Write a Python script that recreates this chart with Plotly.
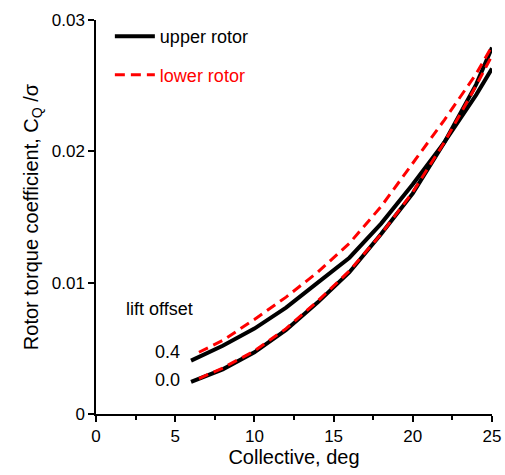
import plotly.graph_objects as go

# Data (collective angle, deg) and torque coefficient C_Q/sigma
collective_upper = [6, 8, 10, 12, 14, 16, 18, 20, 22, 24, 25]
upper_offset04 = [0.00406, 0.0052, 0.0065, 0.0081, 0.0100, 0.0119, 0.0145, 0.0175, 0.0207, 0.0243, 0.0263]
upper_offset00 = [0.00244, 0.0034, 0.0047, 0.0064, 0.0085, 0.0108, 0.0137, 0.0168, 0.0207, 0.0251, 0.0279]

collective_lower = [6.5, 8, 10, 12, 14, 16, 18, 20, 22, 24, 25]
lower_offset04 = [0.0047, 0.0056, 0.0072, 0.0089, 0.0108, 0.0130, 0.0158, 0.0191, 0.0224, 0.0259, 0.0280]
lower_offset00 = [0.0027, 0.0035, 0.0048, 0.0065, 0.0086, 0.0109, 0.0137, 0.0169, 0.0207, 0.0250, 0.0273]

x_ticks = [0, 5, 10, 15, 20, 25]
y_ticks = [0, 0.01, 0.02, 0.03]
y_tick_labels = ["0", "0.01", "0.02", "0.03"]

FONT = "Liberation Sans, Arial, sans-serif"

fig = go.Figure()

black = dict(color="black", width=4)
red = dict(color="#ff0000", width=3, dash="10px,6px")

fig.add_trace(go.Scatter(x=collective_upper, y=upper_offset04, mode="lines", line=black,
                         name="upper rotor", legendgroup="u", showlegend=True, cliponaxis=False))
fig.add_trace(go.Scatter(x=collective_upper, y=upper_offset00, mode="lines", line=black,
                         name="upper rotor", legendgroup="u", showlegend=False, cliponaxis=False))
fig.add_trace(go.Scatter(x=collective_lower, y=lower_offset04, mode="lines", line=red,
                         name='<span style="color:#ff0000">lower rotor</span>', legendgroup="l",
                         showlegend=True, cliponaxis=False))
fig.add_trace(go.Scatter(x=collective_lower, y=lower_offset00, mode="lines", line=red,
                         name="lower rotor", legendgroup="l", showlegend=False, cliponaxis=False))

ann_font = dict(size=18, color="black", family=FONT)
fig.add_annotation(x=1.75, y=0.0080, xref="x", yref="y", text="lift offset", showarrow=False,
                   xanchor="left", yanchor="middle", font=ann_font)
fig.add_annotation(x=5.4, y=0.0047, xref="x", yref="y", text="0.4", showarrow=False,
                   xanchor="right", yanchor="middle", font=ann_font)
fig.add_annotation(x=5.4, y=0.0026, xref="x", yref="y", text="0.0", showarrow=False,
                   xanchor="right", yanchor="middle", font=ann_font)

fig.update_layout(
    width=505, height=475,
    margin=dict(l=96, r=13, t=20, b=61),
    plot_bgcolor="white", paper_bgcolor="white",
    font=dict(family=FONT, size=16, color="black"),
    showlegend=True,
    legend=dict(x=0.035, y=1.005, xanchor="left", yanchor="top", bgcolor="rgba(0,0,0,0)",
                font=dict(size=18, family=FONT, color="black"), tracegroupgap=12,
                itemwidth=40),
    xaxis=dict(range=[0, 25], tickvals=x_ticks, ticktext=[str(v) for v in x_ticks],
               automargin=False,
               showgrid=False, zeroline=False, showline=True, linecolor="black", linewidth=1.5,
               ticks="outside", ticklen=6, tickwidth=1.5, tickcolor="black",
               minor=dict(dtick=2.5, ticks="outside", ticklen=4, tickwidth=1.5, tickcolor="black", showgrid=False),
               tickfont=dict(size=17, family=FONT),
               title=dict(text="Collective, deg", font=dict(size=20, family=FONT), standoff=4)),
    yaxis=dict(range=[0, 0.03], tickvals=y_ticks, ticktext=y_tick_labels,
               automargin=False,
               showgrid=False, zeroline=False, showline=True, linecolor="black", linewidth=1.5,
               ticks="outside", ticklen=6, tickwidth=1.5, tickcolor="black",
               tickfont=dict(size=17, family=FONT),
               title=dict(text="Rotor torque coefficient, C<sub>Q</sub> /σ", font=dict(size=20, family=FONT), standoff=8)),
)

fig.write_html("out.html")
